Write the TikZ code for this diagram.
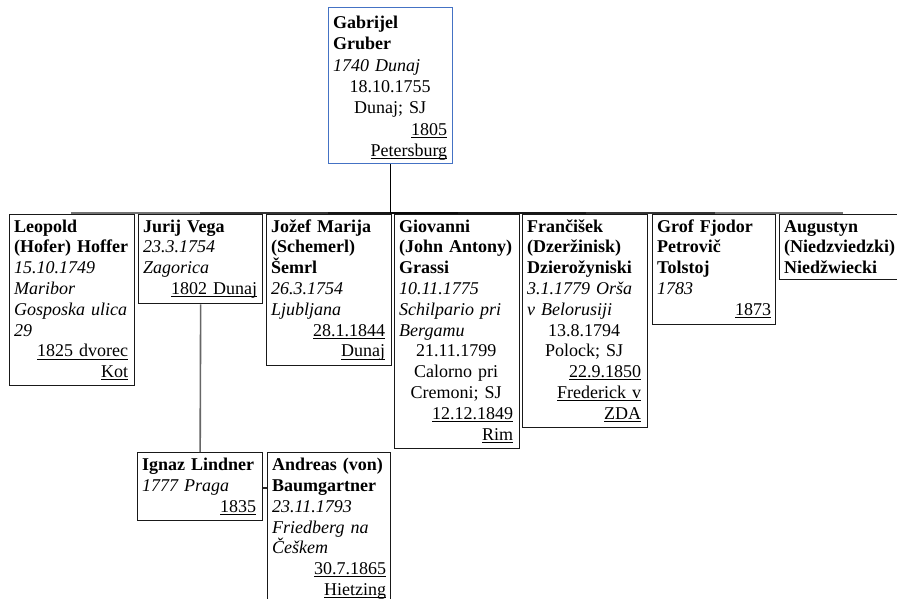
\documentclass[tikz,border=0pt]{standalone}
\usepackage{fontspec}
\setmainfont{Liberation Serif}
\definecolor{topblue}{RGB}{68,114,196}
\newcommand\uln[1]{\setbox0\hbox{#1}\rlap{\rule[-2.6pt]{\wd0}{0.9pt}}\box0}
\newcommand\rl[1]{\makebox[114pt][r]{\uln{#1}}}
\newcommand\cl[1]{\makebox[114pt][c]{#1}}
\tikzset{
  box/.style={draw=black!90, line width=1.3pt, anchor=north west, inner sep=0pt},
  topbox/.style={box, draw=topblue, line width=1.1pt},
  txt/.style={anchor=north west, text width=114pt, align=left, inner sep=0pt,
              font=\fontsize{18}{20.8}\selectfont},
  toptxt/.style={txt, font=\fontsize{18}{21.3}\selectfont},
  trunk/.style={draw=black, line width=1.5pt},
  bus/.style={draw=black, line width=2pt, draw opacity=0.55},
  sub/.style={draw=black!60, line width=1.6pt},
  tickline/.style={draw=black!85, line width=1.5pt}
}
\begin{document}
\begin{tikzpicture}[x=1pt,y=1pt]
\useasboundingbox (0,0) rectangle (897,-599);
\clip (0,0) rectangle (897,-599);
\fill[white] (0,0) rectangle (897,-599);

% boxes
\node[topbox, minimum width=124pt, minimum height=156pt] (gruber) at (328,-7) {};
\node[box, minimum width=125pt, minimum height=171pt] (leopold) at (9,-214) {};
\node[box, minimum width=124pt, minimum height=89pt] (vega) at (138,-214) {};
\node[box, minimum width=125pt, minimum height=151pt] (jozef) at (266,-214) {};
\node[box, minimum width=125pt, minimum height=234pt] (grassi) at (394,-214) {};
\node[box, minimum width=125pt, minimum height=213pt] (francisek) at (522,-214) {};
\node[box, minimum width=123pt, minimum height=110pt] (tolstoj) at (652,-214) {};
\node[box, minimum width=124pt, minimum height=65pt] (augustyn) at (779,-214) {};
\node[box, minimum width=125pt, minimum height=68pt] (lindner) at (137,-452) {};
\node[box, minimum width=123pt, minimum height=170pt] (baumgartner) at (267,-452) {};

% texts
\node[toptxt] (tgruber) at ([shift={(5,-6.4)}]gruber.north west) {\strut\textbf{Gabrijel}\\
\textbf{Gruber}\\
\textit{1740 Dunaj}\\
\cl{18.10.1755}\\
\cl{Dunaj; SJ}\\
\rl{1805}\\
\rl{Petersburg}};

\node[txt] (tleopold) at ([shift={(5,-3.4)}]leopold.north west) {\strut\textbf{Leopold}\\
\textbf{(Hofer) Hoffer}\\
\textit{15.10.1749}\\
\textit{Maribor}\\
\textit{Gosposka ulica}\\
\textit{29}\\
\rl{1825 dvorec}\\
\rl{Kot}};

\node[txt] (tvega) at ([shift={(5,-3.4)}]vega.north west) {\strut\textbf{Jurij Vega}\\
\textit{23.3.1754}\\
\textit{Zagorica}\\
\rl{1802 Dunaj}};

\node[txt] (tjozef) at ([shift={(5,-3.4)}]jozef.north west) {\strut\textbf{Jožef Marija}\\
\textbf{(Schemerl)}\\
\textbf{Šemrl}\\
\textit{26.3.1754}\\
\textit{Ljubljana}\\
\rl{28.1.1844}\\
\rl{Dunaj}};

\node[txt] (tgrassi) at ([shift={(5,-3.4)}]grassi.north west) {\strut\textbf{Giovanni}\\
\textbf{(John Antony)}\\
\textbf{Grassi}\\
\textit{10.11.1775}\\
\textit{Schilpario pri}\\
\textit{Bergamu}\\
\cl{21.11.1799}\\
\cl{Calorno pri}\\
\cl{Cremoni; SJ}\\
\rl{12.12.1849}\\
\rl{Rim}};

\node[txt] (tfrancisek) at ([shift={(5,-3.4)}]francisek.north west) {\strut\textbf{Frančišek}\\
\textbf{(Dzeržinisk)}\\
\textbf{Dzierožyniski}\\
\textit{3.1.1779 Orša}\\
\textit{v Belorusiji}\\
\cl{13.8.1794}\\
\cl{Polock; SJ}\\
\rl{22.9.1850}\\
\rl{Frederick v}\\
\rl{ZDA}};

\node[txt] (ttolstoj) at ([shift={(5,-3.4)}]tolstoj.north west) {\strut\textbf{Grof Fjodor}\\
\textbf{Petrovič}\\
\textbf{Tolstoj}\\
\textit{1783}\\
\rl{1873}};

\node[txt] (taugustyn) at ([shift={(5,-3.4)}]augustyn.north west) {\strut\textbf{Augustyn}\\
\textbf{(Niedzviedzki)}\\
\textbf{Niedžwiecki}};

\node[txt] (tlindner) at ([shift={(5,-4)}]lindner.north west) {\strut\textbf{Ignaz Lindner}\\
\textit{1777 Praga}\\
\rl{1835}};

\node[txt] (tbaumgartner) at ([shift={(5,-4)}]baumgartner.north west) {\strut\textbf{Andreas (von)}\\
\textbf{Baumgartner}\\
\textit{23.11.1793}\\
\textit{Friedberg na}\\
\textit{Češkem}\\
\rl{30.7.1865}\\
\rl{Hietzing}};

% connectors
\coordinate (junction) at ([yshift=-49pt]gruber.south);
\draw[trunk] (gruber.south) -- (junction);
\foreach \c in {leopold,vega,jozef,grassi,francisek,tolstoj,augustyn}{
  \draw[bus] (junction) -| (\c.north);
}
\draw[sub] (vega.south) -- (lindner.north);
\coordinate (tk) at (0,-488);
\draw[tickline] (lindner.east |- tk) -- (baumgartner.west |- tk);
\end{tikzpicture}
\end{document}
